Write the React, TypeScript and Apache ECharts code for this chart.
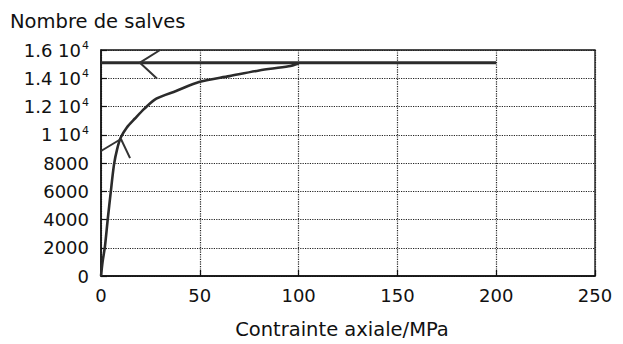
import React, { useEffect, useRef } from "react";
import * as echarts from "echarts";

// Curve: number of bursts vs axial stress
const stressMPa = [0, 0.8, 2.0, 3.4, 4.9, 6.6, 8.2, 10.0, 13.0, 17.2, 22, 28, 38, 50, 65, 80, 95, 100];
const salves = [0, 1000, 2100, 4000, 5900, 7900, 9000, 9800, 10500, 11150, 11850, 12550, 13100, 13750, 14150, 14550, 14850, 15050];

// Horizontal plateau line
const plateauX = [0, 200];
const plateauY = [15100, 15100];

// Arrow annotations (drawn as polylines in data space)
const arrowTopX = [29.9, 19.7, 28.3];
const arrowTopY = [16000, 15100, 13980];
const arrowLowX = [0, 10.1, 14.7];
const arrowLowY = [8850, 9700, 8350];

const xTicks = { min: 0, max: 250, interval: 50 };
const yTicks = { min: 0, max: 16000, interval: 2000 };

const zip = (a: number[], b: number[]) => a.map((v, i) => [v, b[i]]);

export default function App() {
  const ref = useRef<HTMLDivElement>(null);
  useEffect(() => {
    if (!ref.current) return;
    const chart = echarts.init(ref.current, null, { renderer: "svg" });
    const font = "DejaVu Sans";
    const split = { show: true, lineStyle: { color: "#222", type: "dotted", width: 1.2 } };
    chart.setOption({
      animation: false,
      backgroundColor: "#ffffff",
      title: {
        text: "Nombre de salves",
        left: 10,
        top: 11,
        padding: 0,
        textStyle: { fontFamily: font, fontSize: 19.5, fontWeight: "normal", color: "#111" },
      },
      grid: {
        left: 101,
        right: 28,
        top: 50,
        bottom: 64,
        show: true,
        borderColor: "#111",
        borderWidth: 1.3,
        backgroundColor: "transparent",
      },
      xAxis: {
        type: "value",
        min: xTicks.min,
        max: xTicks.max,
        interval: xTicks.interval,
        name: "Contrainte axiale/MPa",
        nameLocation: "middle",
        nameGap: 43,
        nameTextStyle: { fontFamily: font, fontSize: 19.5, color: "#111", padding: [0, 0, 0, -12] },
        axisLine: { show: true, lineStyle: { color: "#111", width: 1.5 } },
        axisTick: { show: true, inside: true, length: 6, lineStyle: { color: "#111", width: 1.2 } },
        axisLabel: { fontFamily: font, fontSize: 18, color: "#111", margin: 10 },
        splitLine: split,
      },
      yAxis: {
        type: "value",
        min: yTicks.min,
        max: yTicks.max,
        interval: yTicks.interval,
        axisLine: { show: true, lineStyle: { color: "#111", width: 1.5 } },
        axisTick: { show: true, inside: true, length: 6, lineStyle: { color: "#111", width: 1.2 } },
        axisLabel: {
          fontFamily: font,
          fontSize: 18,
          color: "#111",
          margin: 12,
          formatter: (v: number) => (v >= 10000 ? `{m|${v / 10000} 10}{s|4}` : `${v}`),
          rich: {
            m: { fontFamily: font, fontSize: 18, color: "#111" },
            s: { fontFamily: font, fontSize: 11, color: "#111", padding: [0, 0, 9, 1] },
          },
        },
        splitLine: split,
      },
      series: [
        {
          type: "line",
          data: zip(plateauX, plateauY),
          symbol: "none",
          lineStyle: { color: "#2b2b2b", width: 3 },
          z: 3,
        },
        {
          type: "line",
          data: zip(stressMPa, salves),
          symbol: "none",
          smooth: 0.3,
          lineStyle: { color: "#2b2b2b", width: 2.6 },
          z: 4,
        },
        {
          type: "line",
          data: zip(arrowTopX, arrowTopY),
          symbol: "none",
          lineStyle: { color: "#333", width: 2 },
          z: 5,
        },
        {
          type: "line",
          data: zip(arrowLowX, arrowLowY),
          symbol: "none",
          lineStyle: { color: "#333", width: 2 },
          z: 5,
        },
      ],
    });
    return () => chart.dispose();
  }, []);
  return (
    <div
      ref={ref}
      style={{ position: "fixed", left: 0, top: 0, width: 623, height: 344, background: "#fff" }}
    />
  );
}
